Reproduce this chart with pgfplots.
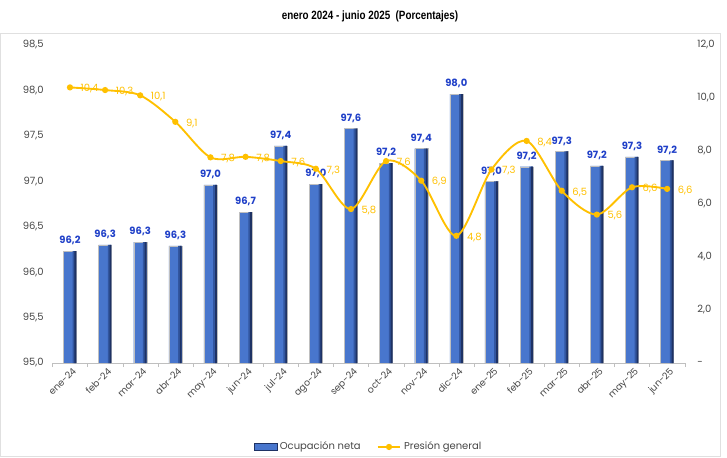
\documentclass[border=0pt]{standalone}
\usepackage{pgfplots}
\usepackage{pgfplotstable}
\pgfplotsset{compat=1.18}
\usepackage{fontspec}
\setmainfont{Poppins}
\newfontfamily\titlefont[FakeStretch=0.82]{Liberation Sans}
\definecolor{barblue}{RGB}{72,118,205}
\definecolor{barmid}{RGB}{50,86,160}
\definecolor{bardark}{RGB}{30,50,100}
\definecolor{lblblue}{RGB}{32,64,200}
\definecolor{lineorange}{RGB}{255,192,0}
\definecolor{tickgray}{RGB}{70,70,70}
\pgfplotsset{
  mybar/.style={ybar, bar width=9.75pt, bar shift=0pt, draw=black!25, line width=0.3pt,
    fill=barblue,
    y filter/.expression={y-95},
    visualization depends on={rawy \as \rawy},
    nodes near coords={\pgfmathprintnumber[fixed,fixed zerofill,precision=1,use comma,assume math mode=true]{\rawy}},
    every node near coord/.append style={font=\bfseries\fontsize{7.5}{9}\selectfont, text=lblblue, anchor=south, yshift=1pt}},
  mystrip/.style={ybar, bar width=2.6pt, bar shift=3.3pt, draw=none, fill=barmid,
    y filter/.expression={y-95}},
  mystripb/.style={ybar, bar width=1.4pt, bar shift=4.1pt, draw=none, fill=bardark,
    y filter/.expression={y-95}},
}
\pgfplotstableread{
x y
0 96.23
1 96.30
2 96.33
3 96.29
4 96.96
5 96.66
6 97.39
7 96.97
8 97.58
9 97.20
10 97.36
11 97.96
12 97.00
13 97.16
14 97.33
15 97.17
16 97.27
17 97.23
}\bars
\begin{document}
\begin{tikzpicture}
\path[use as bounding box] (0,0) rectangle (545.25pt,342.75pt);
\draw[black!12] (0.5pt,0.5pt) rectangle (540.5pt,318pt);
\node[font=\titlefont\bfseries\fontsize{9}{10}\selectfont] at (277.5pt,330.75pt) {enero 2024 - junio 2025\ \ (Porcentajes)};
\begin{axis}[
  at={(39.3pt,70.5pt)}, anchor=south west, scale only axis,
  width=474.2pt, height=238.5pt,
  xmin=-0.5, xmax=17.5, ymin=0, ymax=3.5,
  axis x line*=bottom, axis y line*=left,
  x axis line style={black!25, -},
  y axis line style={draw=none},
  xtick={0,...,17},
  xticklabels={ene-24,feb-24,mar-24,abr-24,may-24,jun-24,jul-24,ago-24,sep-24,oct-24,nov-24,dic-24,ene-25,feb-25,mar-25,abr-25,may-25,jun-25},
  minor xtick={-0.5,0.5,...,17.5},
  major tick length=0pt, minor tick length=3pt,
  tick align=outside,
  minor tick style={black!25},
  ytick={0,0.5,...,3.5},
  yticklabels={{95,0},{95,5},{96,0},{96,5},{97,0},{97,5},{98,0},{98,5}},
  ytick style={draw=none},
  tick label style={font=\fontsize{7.5}{9}\selectfont, text=tickgray},
  xticklabel style={font=\fontsize{7}{8}\selectfont, rotate=45, anchor=north east, inner sep=1pt, yshift=-2pt},
  yticklabel style={xshift=-3pt},
  clip=false,
]
\addplot[mybar] table[x=x,y=y] {\bars};
\addplot[mystrip] table[x=x,y=y] {\bars};
\addplot[mystripb] table[x=x,y=y] {\bars};
\end{axis}
\begin{axis}[
  at={(39.3pt,70.5pt)}, anchor=south west, scale only axis,
  width=474.2pt, height=238.5pt,
  xmin=-0.5, xmax=17.5, ymin=0, ymax=12,
  hide x axis,
  axis y line*=right,
  y axis line style={draw=none},
  ytick={0,2,...,12},
  yticklabels={{-},{2,0},{4,0},{6,0},{8,0},{10,0},{12,0}},
  ytick style={draw=none},
  tick label style={font=\fontsize{7.5}{9}\selectfont, text=tickgray},
  yticklabel style={anchor=west, xshift=6pt},
  clip=false,
  legend style={at={(0.5007,-0.264)}, anchor=center, draw=none, fill=none,
    legend columns=2, font=\fontsize{7.5}{9}\selectfont, text=tickgray,
    /tikz/every even column/.append style={column sep=10pt}},
]
\addlegendimage{area legend, draw=bardark, fill=barblue}
\addlegendentry{Ocupación neta}
\addplot[lineorange, line width=1.4pt, smooth, mark=*, mark size=1.6pt,
  nodes near coords={\pgfmathprintnumber[fixed,fixed zerofill,precision=1,use comma,assume math mode=true]{\pgfplotspointmeta}},
  every node near coord/.append style={font=\fontsize{7.5}{9}\selectfont, text=lineorange, anchor=west, xshift=4pt, yshift=-1pt},
  ] coordinates {
  (0,10.4) (1,10.3) (2,10.1) (3,9.1) (4,7.76) (5,7.78) (6,7.62) (7,7.33) (8,5.81)
  (9,7.62) (10,6.88) (11,4.8) (12,7.3) (13,8.38) (14,6.5) (15,5.6) (16,6.63) (17,6.57)};
\addlegendentry{Presión general}
\end{axis}
\end{tikzpicture}
\end{document}
